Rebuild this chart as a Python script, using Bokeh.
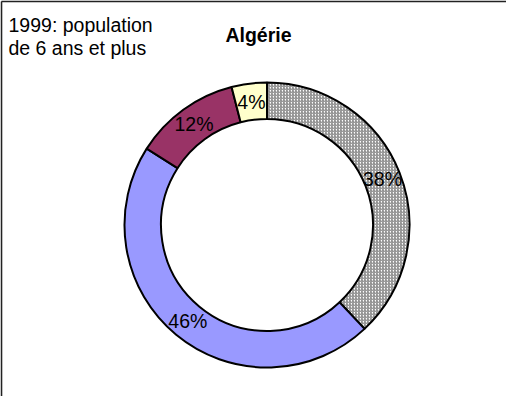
import numpy as np
from bokeh.plotting import figure
from bokeh.models import Range1d, ColumnDataSource
from bokeh.core.properties import value
from bokeh.embed import file_html
from bokeh.resources import INLINE

# ---- data ----
note_lines = ["1999: population", "de 6 ans et plus"]
title_text = "Algérie"
shares = [38, 46, 12, 4]                      # clockwise from 12 o'clock
pct_labels = ["38%", "46%", "12%", "4%"]
colors = ["#ffffff", "#9999FF", "#993366", "#FFFFCC"]
hatches = ["right_diagonal_line", "blank", "blank", "blank"]

# ---- layout ----
W, H = 506, 396
CX, CY = 266.5, 171.5
R_IN, R_OUT = 106, 142.5
FONT = "Liberation Sans"

p = figure(width=W, height=H, output_backend="svg", toolbar_location=None,
           x_range=Range1d(0, W), y_range=Range1d(0, H),
           min_border=0, outline_line_color=None)
p.axis.visible = False
p.grid.visible = False
p.background_fill_color = "white"
p.border_fill_color = "white"

frac = np.array(shares, dtype=float) / sum(shares)
cum = np.concatenate([[0.0], np.cumsum(frac)]) * 2 * np.pi   # clockwise from top
start = np.pi / 2 - cum[1:]
end = np.pi / 2 - cum[:-1]
mid = np.pi / 2 - (cum[:-1] + cum[1:]) / 2
r_lab = (R_IN + R_OUT) / 2

src = ColumnDataSource(dict(
    start=start, end=end, color=colors, hatch=hatches,
    lx=CX + r_lab * np.cos(mid), ly=CY + r_lab * np.sin(mid), lab=pct_labels))

p.annular_wedge(x=CX, y=CY, inner_radius=R_IN, outer_radius=R_OUT,
                start_angle="start", end_angle="end", direction="anticlock",
                fill_color="color", line_color="black", line_width=2,
                hatch_pattern="hatch", hatch_color="#8a8a8a", hatch_scale=3,
                hatch_weight=1.2, source=src)

p.text(x="lx", y="ly", text="lab", source=src, text_align="center",
       text_baseline="middle", text_font=value(FONT), text_font_size="19.5px",
       text_color="black")

# frame lines (top and left only)
p.line(x=[0.9, W], y=[H - 0.9, H - 0.9], line_color="#222222", line_width=1.8)
p.line(x=[0.9, 0.9], y=[0, H - 0.9], line_color="#222222", line_width=1.8)

# note text
p.text(x=[8, 8], y=[372, 349], text=note_lines, text_align="left",
       text_baseline="alphabetic", text_font=value(FONT),
       text_font_size="19.5px", text_color="black")

# title
p.text(x=[258], y=[362], text=[title_text], text_align="center",
       text_baseline="alphabetic", text_font=value(FONT),
       text_font_size="19.5px", text_font_style="bold", text_color="black")

open("out.html", "w").write(file_html(p, INLINE))
